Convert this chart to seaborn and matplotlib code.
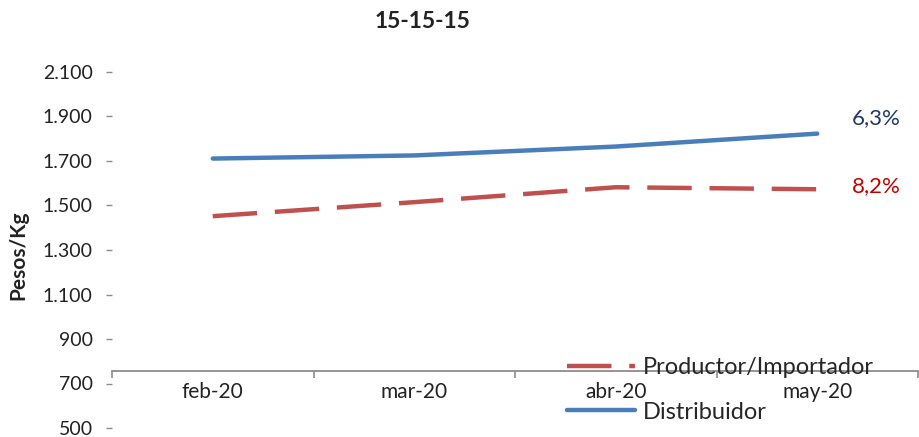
import matplotlib
matplotlib.use("Agg")
import matplotlib.pyplot as plt
import seaborn as sns
import pandas as pd
from matplotlib.lines import Line2D

months = ["feb-20", "mar-20", "abr-20", "may-20"]
distribuidor = [1711, 1725, 1765, 1823]
productor = [1452, 1515, 1582, 1573]
yticks = [500, 700, 900, 1100, 1300, 1500, 1700, 1900, 2100]
ytick_labels = ["500", "700", "900", "1.100", "1.300", "1.500", "1.700", "1.900", "2.100"]
var_dist = "6,3%"
var_prod = "8,2%"

sns.set_theme(style="white")
plt.rcParams['font.family'] = ['Lato', 'DejaVu Sans']

fig = plt.figure(figsize=(9.19, 4.37), dpi=100)
W, H = 919, 437
ax = fig.add_axes([112 / W, 1 - 428 / H, (918 - 112) / W, (428 - 72) / H])

x = list(range(len(months)))
df_d = pd.DataFrame({"x": x, "y": distribuidor})
df_p = pd.DataFrame({"x": x, "y": productor})

BLUE = "#4A7EBB"
RED = "#C0504D"
sns.lineplot(data=df_p, x="x", y="y", ax=ax, color=RED, linewidth=3.2)
ax.lines[-1].set_dashes((10, 4))
sns.lineplot(data=df_d, x="x", y="y", ax=ax, color=BLUE, linewidth=3.2)

ax.set_xlim(-0.5, 3.5)
ax.set_ylim(500, 2100)
ax.set_xlabel("")
ax.set_ylabel("")

for s in ["top", "right", "left"]:
    ax.spines[s].set_visible(False)
ax.spines["bottom"].set_position(("data", 755))
ax.spines["bottom"].set_color("#8C8C8C")
ax.spines["bottom"].set_linewidth(1.3)

ax.set_yticks(yticks)
ax.set_yticklabels(ytick_labels)
ax.tick_params(axis="y", which="major", left=True, length=4, width=1, color="#8C8C8C",
               pad=10, labelsize=14, labelcolor="#222222")

ax.set_xticks(x)
ax.set_xticklabels(months)
ax.set_xticks([-0.5, 0.5, 1.5, 2.5, 3.5], minor=True)
ax.tick_params(axis="x", which="major", bottom=False, length=0, pad=8, labelsize=15,
               labelcolor="#222222")
ax.tick_params(axis="x", which="minor", bottom=True, length=5, width=1.2, color="#8C8C8C")

ax.text(3.17, distribuidor[-1] + 71, var_dist, color="#1F3864", fontsize=16,
        va="center", ha="left", clip_on=False)
ax.text(3.17, productor[-1] + 13, var_prod, color="#C00000", fontsize=16,
        va="center", ha="left", clip_on=False)

fig.text(422 / W, 1 - 22 / H, "15-15-15", ha="center", va="center", fontsize=16.5,
         fontweight="bold", color="#222222")
fig.text(18 / W, 1 - 255 / H, "Pesos/Kg", ha="center", va="center", rotation=90,
         fontsize=15, fontweight="bold", color="#222222")

handles = [Line2D([], [], color=RED, linewidth=3.2, dashes=(10, 4)),
           Line2D([], [], color=BLUE, linewidth=3.2)]
ax.legend(handles, ["Productor/Importador", "Distribuidor"], loc="upper left",
          bbox_to_anchor=(567 / W, 1 - 357 / H), bbox_transform=fig.transFigure,
          frameon=False, fontsize=17, handlelength=2.9, handletextpad=0.3,
          labelspacing=1.0, borderaxespad=0, borderpad=0)

fig.savefig("out.png", dpi=100)
